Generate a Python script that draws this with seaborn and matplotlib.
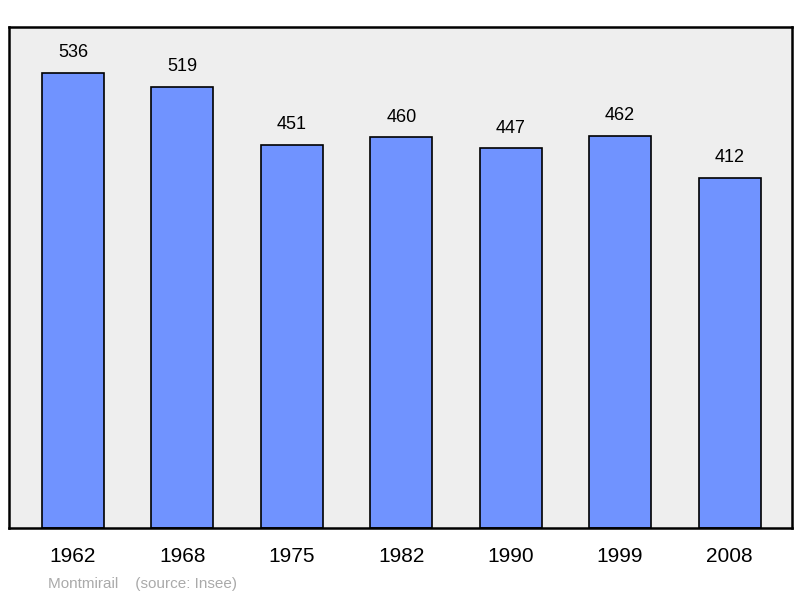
import numpy as np
import matplotlib
matplotlib.use("Agg")
import matplotlib.pyplot as plt
import seaborn as sns
import pandas as pd

years = ["1962", "1968", "1975", "1982", "1990", "1999", "2008"]
population = [536, 519, 451, 460, 447, 462, 412]

df = pd.DataFrame({"year": years, "pop": population})

sns.set_style("white")
plt.rcParams['font.family'] = ['Liberation Sans', 'DejaVu Sans']

fig = plt.figure(figsize=(8, 5.98), dpi=100)
ax = fig.add_axes([9/800, 1-528/598, 783/800, 501/598])
ax.set_facecolor("#eeeeee")

sns.barplot(data=df, x="year", y="pop", color="#7093ff", saturation=1,
            width=0.567, edgecolor="black", linewidth=1.2, ax=ax)

for i, v in enumerate(population):
    ax.text(i, v + 14, str(v), ha="center", va="bottom", fontsize=13, color="black")

ax.set_xlim(-0.585, 6.571)
ax.set_ylim(0, 590)
ax.set_yticks([])
ax.set_xlabel("")
ax.set_ylabel("")
ax.tick_params(axis="x", length=0, labelsize=15, pad=14, labelcolor="black")
for s in ax.spines.values():
    s.set_linewidth(1.8)
    s.set_color("black")

fig.text(48/800, 1-584/598, "Montmirail    (source: Insee)", color="#aaaaaa",
         fontsize=11, va="center")

fig.savefig("out.png", dpi=100)
